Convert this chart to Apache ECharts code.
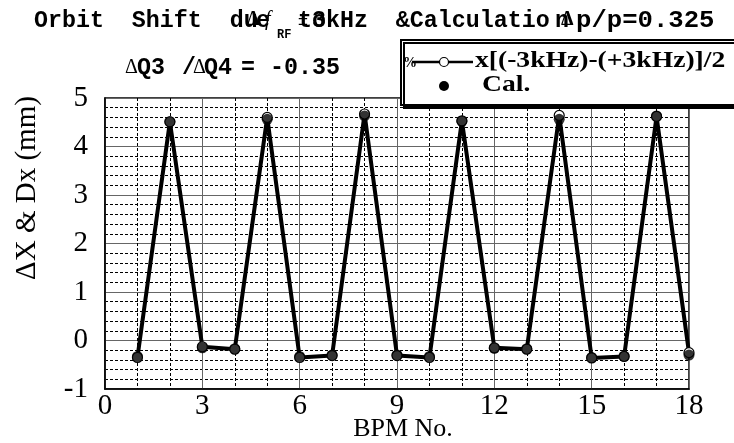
<!DOCTYPE html>
<html>
<head>
<meta charset="utf-8">
<script src="https://cdn.jsdelivr.net/npm/echarts@6/dist/echarts.min.js"></script>
<style>html,body{margin:0;padding:0;background:#fff}#c{width:734px;height:443px}</style>
</head>
<body>
<div id="c"></div>
<script>
// BPM numbers
var bpm = [1,2,3,4,5,6,7,8,9,10,11,12,13,14,15,16,17,18];
// measured: x[(-3kHz)-(+3kHz)]/2 (mm)
var measured = [-0.35,4.51,-0.13,-0.18,4.60,-0.35,-0.31,4.67,-0.31,-0.35,4.53,-0.15,-0.18,4.64,-0.36,-0.33,4.62,-0.25];
// calculation Dx (mm)
var calc = [-0.33,4.51,-0.15,-0.17,4.56,-0.33,-0.30,4.63,-0.30,-0.33,4.52,-0.16,-0.17,4.56,-0.35,-0.32,4.63,-0.30];
var xTicks = [0,3,6,9,12,15,18];
var yTicks = [-1,0,1,2,3,4,5];
var seriesNames = ['x[(-3kHz)-(+3kHz)]/2','Cal.'];

var MONO = 'bold 23.3px "Liberation Mono","Courier New",monospace';
var SERIF = '"Liberation Serif","Times New Roman",serif';

function pairs(v){ return bpm.map(function(b,i){ return [b, v[i]]; }); }
function txt(t, x, y, font, extra){
  var o = {type:'text', x:x, y:y, z:100, style:{text:t, font:font, fill:'#000', textAlign:'left', textVerticalAlign:'middle'}};
  if (extra) for (var k in extra) o[k]=extra[k];
  return o;
}

var chart = echarts.init(document.getElementById('c'));
chart.setOption({
  backgroundColor:'#fff',
  animation:false,
  grid:{left:105, right:45, top:98, bottom:54, outerBoundsMode:'none', containLabel:false,
        show:true, borderColor:'#000', borderWidth:1.5, backgroundColor:'transparent'},
  xAxis:{
    type:'value', min:xTicks[0], max:xTicks[xTicks.length-1], interval:3,
    axisLine:{onZero:false, lineStyle:{color:'#000', width:1.5}},
    axisTick:{show:false},
    axisLabel:{fontFamily:SERIF, fontSize:29, color:'#000', margin:3},
    splitLine:{show:true, lineStyle:{color:'#666', width:1}},
    minorTick:{show:false, splitNumber:3},
    minorSplitLine:{show:true, lineStyle:{color:'#000', width:1, type:[3,2]}}
  },
  yAxis:{
    type:'value', min:yTicks[0], max:yTicks[yTicks.length-1], interval:1,
    axisLine:{onZero:false, lineStyle:{color:'#000', width:1.5}},
    axisTick:{show:false},
    axisLabel:{fontFamily:SERIF, fontSize:29, color:'#000', margin:17},
    splitLine:{show:true, lineStyle:{color:'#666', width:1}},
    minorTick:{show:false, splitNumber:5},
    minorSplitLine:{show:true, lineStyle:{color:'#000', width:1, type:[3,2]}}
  },
  series:[
    {name:seriesNames[0], type:'line', data:pairs(measured), symbol:'circle', symbolSize:10,
     lineStyle:{color:'#000', width:4}, itemStyle:{color:'#fff', borderColor:'#000', borderWidth:1.2}, z:3},
    {name:seriesNames[1], type:'scatter', data:pairs(calc), symbol:'circle', symbolSize:11,
     itemStyle:{color:'#000'}, z:4}
  ],
  graphic:[
    // axis titles
    {type:'text', x:27, y:188, rotation:Math.PI/2, z:100,
     style:{text:'\u0394X & Dx (mm)', font:'29px ' + SERIF, fill:'#000', textAlign:'center', textVerticalAlign:'middle'}},
    {type:'text', x:403, y:429, z:100,
     style:{text:'BPM No.', font:'26px ' + SERIF, fill:'#000', textAlign:'center', textVerticalAlign:'middle'}},
    // title line 1 (overlapping glyphs as in the original)
    txt('Orbit  Shift  du', 34, 21, MONO),
    txt('e', 256, 21, MONO),
    txt('\u0394', 247, 20, 'bold 20px ' + SERIF),
    txt('f', 265, 20, 'italic 20px ' + SERIF),
    txt('RF', 277, 35, 'bold 12px "Liberation Mono",monospace'),
    txt('tokHz  &Calculatio', 298, 21, MONO),
    txt('\u00b1', 298, 20, 'bold 18px ' + SERIF),
    txt('3', 312, 21, MONO),
    txt('n', 555, 21, MONO),
    txt('\u0394', 561, 20, 'bold 20px ' + SERIF),
    txt('p/p=0.325', 576, 21, MONO, {scaleX:1.1}),
    // title line 2
    txt('\u0394', 125, 68, '20px ' + SERIF),
    txt('Q3', 137, 68, MONO),
    txt('/', 182, 68, MONO),
    txt('\u0394', 193, 68, '20px ' + SERIF),
    txt('Q4', 204, 68, MONO),
    txt('=', 241, 68, MONO),
    txt('-0.35', 270, 68, MONO),
    // legend box
    {type:'rect', z:90, shape:{x:401, y:40, width:345, height:65},
     style:{fill:'#fff', stroke:'#000', lineWidth:2, shadowColor:'#000', shadowOffsetX:3, shadowOffsetY:3, shadowBlur:0}},
    {type:'line', z:100, shape:{x1:412, y1:62, x2:473, y2:62}, style:{stroke:'#000', lineWidth:2.5}},
    {type:'circle', z:101, shape:{cx:444, cy:62, r:4.5}, style:{fill:'#fff', stroke:'#000', lineWidth:1.2}},
    {type:'circle', z:101, shape:{cx:444, cy:86, r:5}, style:{fill:'#000'}},
    txt('%', 403, 63, 'bold 14px ' + SERIF),
    txt(seriesNames[0], 475, 61, 'bold 24px ' + SERIF, {scaleX:1.15}),
    txt(seriesNames[1], 482, 85, 'bold 24px ' + SERIF, {scaleX:1.15})
  ]
});
</script>
</body>
</html>
